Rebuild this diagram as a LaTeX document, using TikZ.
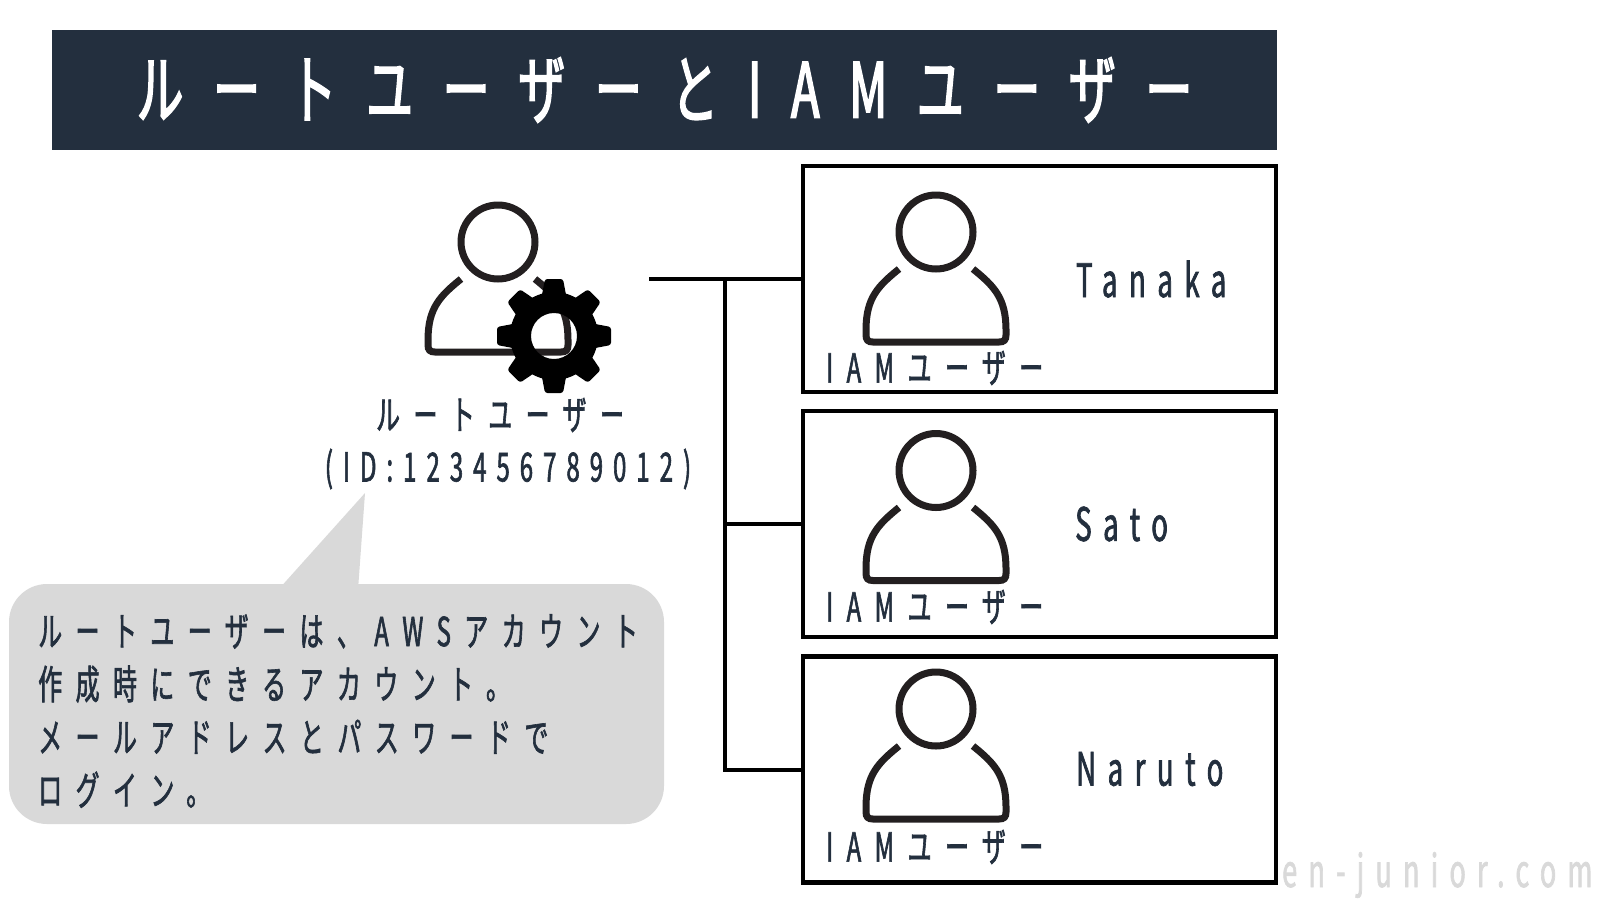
\documentclass[tikz,border=0pt]{standalone}
\usepackage{fontspec}
\usetikzlibrary{positioning,calc}
\newfontfamily\jpfont[FakeStretch=0.6,LetterSpace=33.5,FakeBold=1.5]{Noto Sans CJK JP}
\newfontfamily\jplatin[FakeStretch=0.6,LetterSpace=25,FakeBold=1.5]{Noto Sans CJK JP}
\newfontfamily\jptitlefont[FakeStretch=0.62,LetterSpace=38.7,FakeBold=2]{Noto Sans CJK JP}
\definecolor{navy}{HTML}{232F3E}
\definecolor{balloongray}{HTML}{D9D9D9}
\definecolor{iconline}{HTML}{231F20}

\begin{document}
\begin{tikzpicture}[x=1pt,y=-1pt,
		jplabel/.style={inner sep=0pt,text=navy,font=\jpfont\fontsize{40}{53}\selectfont},
		namelabel/.style={jplabel,anchor=west,font=\jplatin\fontsize{46}{50}\selectfont},
		userbox/.style={rectangle,draw,line width=4.5pt,minimum width=473pt,minimum height=226pt},
		wire/.style={line width=4pt},
		person/.pic={
			\draw[iconline,line width=7pt] (0,0) circle [radius=37pt];
			\draw[iconline,line width=7pt] (-37,37) .. controls (-58,54) and (-70,66) .. (-70,98) -- (-70,103)
				.. controls (-70,108) and (-68,110) .. (-63,110) -- (63,110)
				.. controls (68,110) and (70,108) .. (70,103) -- (70,98)
				.. controls (70,66) and (58,54) .. (37,37);
		},
		gear/.pic={
			\foreach \a in {0,45,...,315}
				\fill[black,rotate=\a,rounded corners=2.5pt] (-9,-57) -- (9,-57) -- (13,-36) -- (-13,-36) -- cycle;
			\fill[black,even odd rule] (0,0) circle [radius=44pt] (0,0) circle [radius=23pt];
		}]
	\useasboundingbox (0,0) rectangle (1600,900);

	\node[rectangle,fill=navy,text=white,inner sep=0pt,minimum width=1225pt,minimum height=120pt,
		font=\jptitlefont\fontsize{76}{80}\selectfont] (title) at (664.5,90) {ルートユーザーとIAMユーザー};

	\pic at (498,242) {person};
	\pic at (554,336) {gear};
	\node[jplabel] (rootname) at (500,415) {ルートユーザー};
	\node[jplabel,font=\jplatin\fontsize{40}{53}\selectfont] (rootid) at (508,469) {(ID:123456789012)};

	\fill[balloongray] (278,590) -- (365,493) -- (358,590) -- cycle;
	\node[rectangle,fill=balloongray,rounded corners=38pt,minimum width=655pt,minimum height=240pt] (balloon) at (336.5,704) {};
	\node[jplabel,anchor=west,align=left] (balloontext) at (38,711) {ルートユーザーは、AWSアカウント\\作成時にできるアカウント。\\メールアドレスとパスワードで\\ログイン。};

	\node[userbox] (tanaka) at (1039.5,279) {};
	\node[userbox] (sato) at (1039.5,524) {};
	\node[userbox] (naruto) at (1039.5,769.5) {};

	\pic at (936,232) {person};
	\pic at (936,470.5) {person};
	\pic at (936,709) {person};

	\node[jplabel,anchor=west] (iama) at (826,368) {IAMユーザー};
	\node[jplabel,anchor=west] (iamb) at (826,607) {IAMユーザー};
	\node[jplabel,anchor=west] (iamc) at (826,847) {IAMユーザー};

	\node[namelabel] (tanakaname) at (1076,279) {Tanaka};
	\node[namelabel] (satoname) at (1075,524) {Sato};
	\node[namelabel] (narutoname) at (1076,769) {Naruto};

	\coordinate (rootout) at (649,279);
	\coordinate (trunk) at (725,279);
	\draw[wire] (rootout) -- (tanaka.west);
	\draw[wire] (trunk) |- (naruto.west);
	\draw[wire] (trunk |- sato.west) -- (sato.west);

	\node[namelabel,text=balloongray,font=\jplatin\fontsize{45}{50}\selectfont] (site) at (1282,875) {en-junior.com};
\end{tikzpicture}
\end{document}
